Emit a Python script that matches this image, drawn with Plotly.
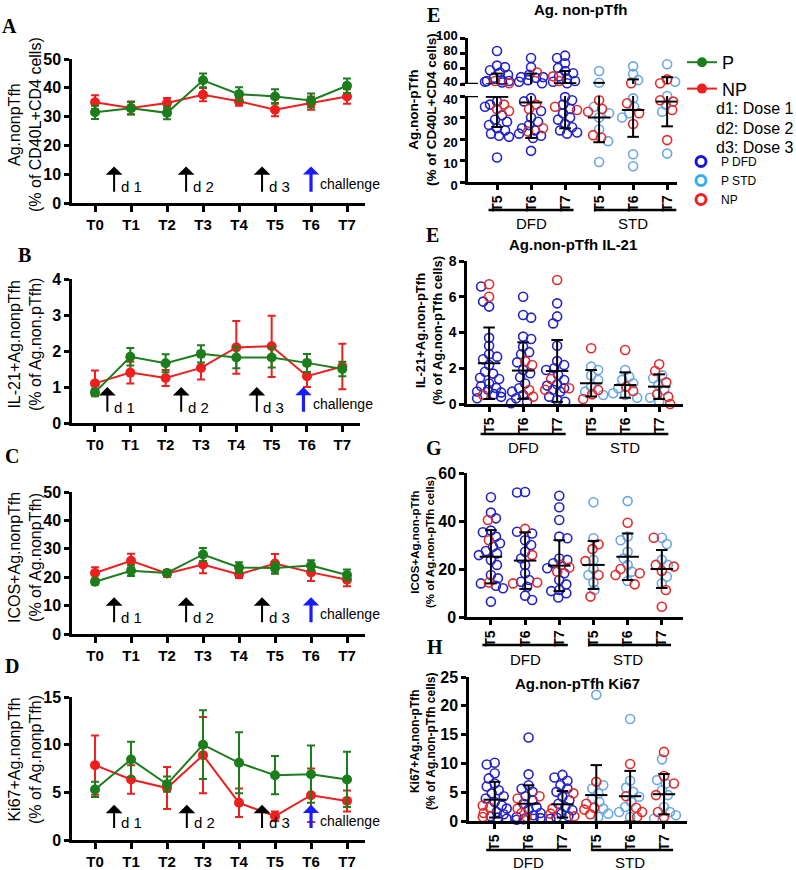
import plotly.graph_objects as go

# ---------------- data ----------------
TIMES = ['T0', 'T1', 'T2', 'T3', 'T4', 'T5', 'T6', 'T7']

A_P = [31.5, 32.9, 31.3, 42.6, 37.8, 37.0, 35.6, 40.7]
A_P_ERR = [2.3, 2.2, 2.2, 2.4, 2.4, 2.5, 2.4, 2.5]
A_NP = [35.0, 33.0, 34.7, 37.6, 35.3, 32.4, 34.7, 37.0]
A_NP_ERR = [2.4, 2.2, 1.8, 2.3, 1.5, 2.3, 2.3, 2.5]

B_P = [0.85, 1.84, 1.66, 1.92, 1.82, 1.82, 1.67, 1.5]
B_P_ERR = [0.1, 0.24, 0.25, 0.24, 0.3, 0.28, 0.25, 0.2]
B_NP = [1.1, 1.4, 1.25, 1.53, 2.1, 2.13, 1.3, 1.57]
B_NP_ERR = [0.36, 0.3, 0.22, 0.32, 0.73, 0.85, 0.3, 0.63]

C_P = [18.4, 22.3, 21.5, 28.0, 23.4, 23.2, 24.1, 20.8]
C_P_ERR = [1.0, 1.9, 1.0, 2.3, 1.9, 2.0, 1.9, 1.9]
C_NP = [21.5, 25.8, 21.3, 24.5, 21.0, 24.8, 21.7, 19.1]
C_NP_ERR = [2.0, 2.5, 1.2, 3.1, 1.3, 3.4, 3.0, 2.3]

D_P = [5.3, 8.45, 5.85, 10.0, 8.1, 6.8, 6.9, 6.35]
D_P_ERR = [0.8, 1.85, 0.8, 3.6, 3.2, 2.0, 3.0, 2.9]
D_NP = [7.85, 6.35, 5.45, 8.9, 3.9, 2.5, 4.7, 4.1]
D_NP_ERR = [3.1, 1.5, 2.2, 4.0, 1.5, 0.5, 2.8, 1.1]

DOSE_LABELS = ['d 1', 'd 2', 'd 3', 'challenge']

GROUP_TICKS = ['T5', 'T6', 'T7', 'T5', 'T6', 'T7']
GROUPS = ['DFD', 'STD']

# order of sublists: DFD T5, DFD T6, DFD T7, STD T5, STD T6, STD T7
E_P = [
    [83, 64, 62, 58, 55, 52, 48, 45, 44, 44, 43, 42, 37.5, 36, 35, 31, 29, 28, 26.5, 25, 24, 22.5, 21.5, 21, 11.4],
    [74, 62, 52, 49, 49, 48, 45, 43, 41, 39, 37.5, 33, 30, 28, 26.5, 25, 24, 22.5, 21.5, 20.5, 14.5],
    [77, 74, 67, 61, 57, 54, 50, 47, 44, 43, 41, 39.5, 38, 36, 34, 32, 30, 29, 27, 25.5, 24, 23, 22.5],
    [57, 41.7, 35, 32, 30, 24.4, 19, 9.3],
    [63, 53, 45, 38.9, 35, 32, 30, 12.9, 7.3],
    [65.7, 43, 40, 36.9, 35.8, 32.7, 13.2],
]
E_NP = [
    [44, 41, 36, 34, 33],
    [55, 36, 34, 25, 23.5],
    [50, 44, 35, 33.5],
    [38, 34, 32.7, 21.8, 20.7],
    [41, 36.6, 32, 27],
    [46, 41, 38, 37.4, 33.5, 19.5],
]
E_MEAN = [39.6, 37, 41, 30, 33.5, 37.4]
E_SD = [14, 16.5, 16, 11.5, 12.5, 11.5]

F_P = [
    [6.57, 5.73, 5.45, 3.7, 3.26, 2.78, 2.65, 2.5, 2.18, 1.8, 1.7, 1.47, 1.4, 1.15, 1.0, 0.9, 0.8, 0.7, 0.65, 0.55, 0.4, 0.32],
    [6.0, 4.98, 4.83, 3.77, 3.64, 3.2, 2.9, 2.78, 2.33, 1.9, 1.72, 1.5, 1.15, 0.88, 0.69, 0.5, 0.32, 0.13, 0.04],
    [5.63, 4.9, 4.51, 3.26, 2.4, 2.18, 2.0, 1.9, 1.62, 1.34, 1.1, 1.03, 0.88, 0.8, 0.69, 0.41, 0.22, 0.13],
    [2.09, 1.9, 1.6, 1.34, 0.97, 0.69, 0.5],
    [1.9, 1.53, 1.35, 1.16, 0.88, 0.6, 0.5, 0.35],
    [1.6, 1.44, 1.06, 0.78, 0.35, 0.13],
]
F_NP = [
    [6.7, 6.0, 0.5],
    [2.4, 2.18, 0.78, 0.41],
    [6.94, 1.4, 0.88, 0.8],
    [3.12, 0.78, 0.54, 0.28],
    [3.02, 0.97, 0.73],
    [2.22, 1.85, 1.21, 0.54, 0.41, 0.0],
]
F_MEAN = [2.28, 1.87, 1.85, 1.16, 1.06, 0.97]
F_SD = [2.0, 1.58, 1.73, 0.74, 0.71, 0.69]

G_P = [
    [49.9, 43.5, 41.1, 36, 35.3, 33.5, 30.7, 29.3, 27.5, 26.5, 25.8, 23.8, 21.7, 17.5, 16.1, 14, 13, 12, 6.4],
    [52.1, 51.9, 35.5, 34.8, 32, 30, 27.2, 24.4, 21.7, 18.2, 15.4, 14.7, 12.6, 8.9, 7.1],
    [50.5, 45.7, 40.4, 33.5, 32.8, 24.4, 23.8, 22.4, 20.3, 18.2, 15.4, 13.6, 11.25, 10.8, 9.9, 8.1],
    [47.8, 32.8, 23.8, 20, 17.5, 14.4, 11.25],
    [48.3, 33.5, 32, 27.2, 24.4, 21.7, 18.9, 15],
    [33, 30.4, 23.8, 21.7, 16.8, 14],
]
G_NP = [
    [40.4, 32, 14.4],
    [36.7, 25.8, 14.4, 14],
    [21.7, 20.6, 18.9],
    [30.3, 28.3, 23.3, 17.5, 8.5],
    [39.3, 20, 18.2, 17.5, 13.6],
    [33, 21.7, 21, 19.2, 11.25, 4.3],
]
G_MEAN = [25.1, 23.5, 21.4, 21.7, 25.1, 20]
G_SD = [11.1, 11.8, 10.6, 10, 9.7, 7.9]

H_P = [
    [10.1, 9.8, 8.3, 7.4, 6.5, 6.0, 5.35, 4.8, 4.3, 3.9, 3.3, 2.7, 2.15, 1.57, 1.16, 0.81, 0.58, 0.4],
    [14.5, 8.1, 6.2, 5.6, 5.06, 4.3, 3.6, 3.0, 2.44, 1.98, 1.4, 1.0, 0.7, 0.5, 0.4, 0.3, 0.23],
    [8.0, 7.56, 7.0, 6.2, 5.64, 5.06, 4.2, 3.6, 3.0, 2.44, 1.86, 1.28, 0.81, 0.6, 0.4],
    [21.9, 6.2, 5.64, 4.8, 3.9, 3.3, 2.15, 1.28, 0.7],
    [17.7, 7.0, 5.8, 5.06, 4.2, 3.3, 2.44, 1.57, 0.7],
    [10.7, 7.1, 6.5, 5.35, 4.5, 2.44, 1.57, 1.0, 0.4],
]
H_NP = [
    [2.7, 2.3, 1.4, 0.7],
    [4.3, 3.9, 2.15, 1.4, 0.7],
    [4.8, 2.15, 1.28, 0.81],
    [6.8, 3.0, 2.3, 1.98, 1.16],
    [9.9, 4.3, 2.3, 1.57, 0.7],
    [12.0, 7.8, 6.5, 4.5, 1.57, 0.7],
]
H_MEAN = [3.7, 3.0, 2.9, 4.5, 4.3, 4.65]
H_SD = [3.1, 3.2, 2.3, 5.2, 4.4, 3.5]

# ---------------- styling / layout helpers ----------------
W, H = 796, 870
FONT = 'Arial, Liberation Sans, sans-serif'
SERIF = 'Times New Roman, Liberation Serif, serif'
GREEN = '#1b7d1b'
RED = '#ee1f1f'
DBLUE = '#2323c8'
LBLUE = '#6aa6e6'
NPRED = '#e52a2a'
BLUE_ARROW = '#1a1aff'


def xd(a, b):
    return [a / W, b / W]


def yd(top, bot):
    return [1 - bot / H, 1 - top / H]


def px_x(p):
    return p / W


def px_y(p):
    return 1 - p / H


fig = go.Figure()
annotations = []
shapes = []
layout_axes = {}


def yaxis_style(**kw):
    d = dict(showline=True, linewidth=2.5, linecolor='black', ticks='outside', ticklen=5,
             tickwidth=2.5, tickcolor='black', showgrid=False, zeroline=False, automargin=False,
             tickfont=dict(family=FONT, size=16, color='black', weight='bold'))
    d.update(kw)
    return d


# ---------------- left panels ----------------
LEFT = [
    dict(s='', P=A_P, Pe=A_P_ERR, NP=A_NP, NPe=A_NP_ERR, xdom=(72, 365), ydom=(59, 203),
         xr=[-0.64, 7.5], yr=[0, 50], dt=10,
         title='Ag.nonpTfh<br>(% of CD40L+CD4 cells)', tcy=125,
         arrows=[0.53, 2.53, 4.64, 6.0], tip=12.7, base=3.4, laby=5.6, chaly=6.6,
         letter='A', lx=9, ly=26),
    dict(s='2', P=B_P, Pe=B_P_ERR, NP=B_NP, NPe=B_NP_ERR, xdom=(72, 360), ydom=(279, 423),
         xr=[-0.65, 7.5], yr=[0, 4], dt=1,
         title='IL-21+Ag.nonpTfh<br>(% of Ag.non.pTfh)', tcy=345,
         arrows=[0.35, 2.44, 4.58, 5.9], tip=1.0, base=0.27, laby=0.42, chaly=0.53,
         letter='B', lx=25, ly=255),
    dict(s='3', P=C_P, Pe=C_P_ERR, NP=C_NP, NPe=C_NP_ERR, xdom=(72, 365), ydom=(492, 634),
         xr=[-0.64, 7.5], yr=[0, 50], dt=10,
         title='ICOS+Ag.nonpTfh<br>(% of Ag.nonpTfh)', tcy=558,
         arrows=[0.53, 2.53, 4.64, 6.0], tip=12.9, base=3.6, laby=5.7, chaly=6.9,
         letter='C', lx=12, ly=456),
    dict(s='4', P=D_P, Pe=D_P_ERR, NP=D_NP, NPe=D_NP_ERR, xdom=(72, 365), ydom=(697, 840),
         xr=[-0.64, 7.5], yr=[0, 15], dt=5,
         title='Ki67+Ag.nonpTfh<br>(% of Ag.nonpTfh)', tcy=760,
         arrows=[0.53, 2.55, 4.64, 6.0], tip=3.7, base=1.1, laby=1.8, chaly=2.0,
         letter='D', lx=12, ly=666),
]

XIDX = list(range(len(TIMES)))
for k, p in enumerate(LEFT):
    s = p['s']
    xa, ya = 'x' + s, 'y' + s
    fig.add_trace(go.Scatter(
        x=XIDX, y=p['NP'], mode='lines+markers', name='NP',
        line=dict(color=RED, width=2), marker=dict(color=RED, size=10),
        error_y=dict(type='data', array=p['NPe'], color=RED, thickness=2, width=4),
        xaxis=xa, yaxis=ya, legend='legend', showlegend=(k == 0), legendrank=2))
    fig.add_trace(go.Scatter(
        x=XIDX, y=p['P'], mode='lines+markers', name='P',
        line=dict(color=GREEN, width=2), marker=dict(color=GREEN, size=10),
        error_y=dict(type='data', array=p['Pe'], color=GREEN, thickness=2, width=4),
        xaxis=xa, yaxis=ya, legend='legend', showlegend=(k == 0), legendrank=1))
    layout_axes['xaxis' + s] = dict(
        domain=xd(*p['xdom']), range=p['xr'], anchor=ya, tickvals=XIDX, ticktext=TIMES,
        showline=True, linewidth=2.5, linecolor='black', ticks='outside', ticklen=6,
        tickwidth=2.5, tickcolor='black', showgrid=False, zeroline=False, automargin=False,
        tickfont=dict(family=FONT, size=15, color='black', weight='bold'))
    layout_axes['yaxis' + s] = yaxis_style(domain=yd(*p['ydom']), range=p['yr'],
                                           dtick=p['dt'], anchor=xa)
    # axis title
    annotations.append(dict(text=p['title'], xref='paper', yref='paper',
                            x=px_x(25), y=px_y(p['tcy']), textangle=-90, showarrow=False,
                            font=dict(family=FONT, size=16, color='black'),
                            xanchor='center', yanchor='middle'))
    # panel letter
    annotations.append(dict(text='<b>%s</b>' % p['letter'], xref='paper', yref='paper',
                            x=px_x(p['lx']), y=px_y(p['ly']), showarrow=False,
                            font=dict(family=SERIF, size=20, color='black'),
                            xanchor='center', yanchor='middle'))
    # dose arrows
    for j, ax_x in enumerate(p['arrows']):
        chal = (j == 3)
        annotations.append(dict(
            x=ax_x, y=p['tip'], ax=ax_x, ay=p['base'], xref=xa, yref=ya, axref=xa, ayref=ya,
            showarrow=True, text='', arrowhead=1, arrowsize=(0.85 if chal else 1.4),
            arrowwidth=(3.2 if chal else 2.0), arrowcolor=(BLUE_ARROW if chal else 'black'),
            standoff=0, startstandoff=0))
        annotations.append(dict(
            x=ax_x + (0.2 if chal else 0.13), y=(p['chaly'] if chal else p['laby']),
            xref=xa, yref=ya, text=DOSE_LABELS[j], showarrow=False, xanchor='left',
            yanchor='middle',
            font=dict(family=FONT, size=(14 if chal else 15), color='black')))


# ---------------- right panels ----------------
def swarm(vals, ypx, pxx, d=7.6, wmax=12.0):
    order = sorted(range(len(vals)), key=lambda i: -vals[i])
    placed = []
    off = [0.0] * len(vals)
    base = [0.0]
    k = 1
    while k <= wmax:
        base += [float(k), float(-k)]
        k += 1
    for n, i in enumerate(order):
        cands = base if n % 2 == 0 else [-c for c in base]
        y = ypx(vals[i])
        best, bestc, bestcost = None, 0.0, None
        for c in cands:
            cost = 0.0
            for yp, xp in placed:
                dist = ((c - xp) ** 2 + (y - yp) ** 2) ** 0.5
                if dist < d:
                    cost += d - dist
            if cost == 0:
                best = c
                break
            if bestcost is None or cost < bestcost:
                bestcost, bestc = cost, c
        if best is None:
            best = bestc
        placed.append((y, best))
        off[i] = best / pxx
    return off


def stat_xy(means, sds):
    xs, ys = [], []
    for i, (m, s) in enumerate(zip(means, sds)):
        xs += [i - 0.33, i + 0.33, None, i, i, None, i - 0.17, i + 0.17, None,
               i - 0.17, i + 0.17, None]
        ys += [m, m, None, m - s, m + s, None, m + s, m + s, None, m - s, m - s, None]
    return xs, ys


RIGHT = [
    dict(key='E', P=E_P, NP=E_NP, M=E_MEAN, SD=E_SD, xs='5', upper='6', xdom=(468, 677),
         ydom=(96, 182), udom=(38, 84), xr=[-0.853, 5.29], yr=[0, 40], dt=10,
         ur=[40, 100], udt=20,
         ypx=lambda v: v * 2.15 if v <= 40 else 98 + (v - 40) * 0.767,
         title='<b>Ag.non-pTfh<br>(% of CD40L+CD4 cells)</b>', tsize=13.5, tcx=423, tcy=110,
         ptitle='Ag. non-pTfh', ptx=580, pty=9, letter='E', lx=433, ly=15,
         gline=210, glab=223, tfs=13),
    dict(key='F', P=F_P, NP=F_NP, M=F_MEAN, SD=F_SD, xs='7', upper=None, xdom=(467, 683),
         ydom=(261, 404), xr=[-0.65, 5.7], yr=[0, 8], dt=2,
         ypx=lambda v: v * 17.9,
         title='<b>IL-21+Ag.non-pTfh<br>(% of Ag.non-pTfh cells)</b>', tsize=13, tcx=429,
         tcy=331, ptitle='Ag.non-pTfh IL-21', ptx=573, pty=245, letter='E', lx=432, ly=235,
         gline=434, glab=447, tfs=14),
    dict(key='G', P=G_P, NP=G_NP, M=G_MEAN, SD=G_SD, xs='8', upper=None, xdom=(467, 683),
         ydom=(473, 617), xr=[-0.7, 5.62], yr=[0, 60], dt=20,
         ypx=lambda v: v * 2.4,
         title='<b>ICOS+Ag.non-pTfh<br>(% of Ag.non-pTfh cells)</b>', tsize=11.5, tcx=422,
         tcy=542, ptitle=None, letter='G', lx=434, ly=448,
         gline=645, glab=659, tfs=16),
    dict(key='H', P=H_P, NP=H_NP, M=H_MEAN, SD=H_SD, xs='9', upper=None, xdom=(469, 687),
         ydom=(677, 821), xr=[-0.76, 5.68], yr=[0, 25], dt=5,
         ypx=lambda v: v * 5.76,
         title='<b>Ki67+Ag.non-pTfh<br>(% of Ag.non-pTfh cells)</b>', tsize=12, tcx=423,
         tcy=741, ptitle='Ag.non-pTfh Ki67', ptx=577, pty=683, letter='H', lx=435, ly=647,
         gline=850, glab=862, tfs=16),
]

PXX = 34.0
for p in RIGHT:
    s = p['xs']
    xa, ya = 'x' + s, 'y' + s
    groups = {'PD': ([], []), 'PS': ([], []), 'NP': ([], [])}
    groups_u = {'PD': ([], []), 'PS': ([], []), 'NP': ([], [])}
    for i in range(6):
        vals = list(p['P'][i]) + list(p['NP'][i])
        kinds = [('PD' if i < 3 else 'PS')] * len(p['P'][i]) + ['NP'] * len(p['NP'][i])
        offs = swarm(vals, p['ypx'], PXX)
        for v, kd, o in zip(vals, kinds, offs):
            tgt = groups_u if (p['upper'] and v > 40) else groups
            tgt[kd][0].append(i + o)
            tgt[kd][1].append(v)
    colors = {'PD': DBLUE, 'PS': LBLUE, 'NP': NPRED}
    for kd in ['PD', 'PS', 'NP']:
        fig.add_trace(go.Scatter(
            x=groups[kd][0], y=groups[kd][1], mode='markers', cliponaxis=False,
            marker=dict(symbol='circle-open', size=9, color=colors[kd],
                        line=dict(width=1.6, color=colors[kd])),
            xaxis=xa, yaxis=ya, showlegend=False, hoverinfo='skip'))
    sx, sy = stat_xy(p['M'], p['SD'])
    fig.add_trace(go.Scatter(x=sx, y=sy, mode='lines', line=dict(color='black', width=2),
                             xaxis=xa, yaxis=ya, showlegend=False, hoverinfo='skip'))
    layout_axes['xaxis' + s] = dict(
        domain=xd(*p['xdom']), range=p['xr'], anchor=ya, tickvals=list(range(6)),
        ticktext=GROUP_TICKS, tickangle=-90,
        showline=True, linewidth=2.5, linecolor='black', ticks='outside', ticklen=5,
        tickwidth=2.5, tickcolor='black', showgrid=False, zeroline=False, automargin=False,
        tickfont=dict(family=FONT, size=14, color='black', weight='bold'))
    layout_axes['yaxis' + s] = yaxis_style(
        domain=yd(*p['ydom']), range=p['yr'], dtick=p['dt'], anchor=xa,
        ticklabelshift=(3 if p['upper'] else 0),
        tickfont=dict(family=FONT, size=p['tfs'], color='black', weight='bold'))
    if p['upper']:
        u = p['upper']
        xu, yu = 'x' + u, 'y' + u
        for kd in ['PD', 'PS', 'NP']:
            fig.add_trace(go.Scatter(
                x=groups_u[kd][0], y=groups_u[kd][1], mode='markers', cliponaxis=False,
                marker=dict(symbol='circle-open', size=9, color=colors[kd],
                            line=dict(width=1.6, color=colors[kd])),
                xaxis=xu, yaxis=yu, showlegend=False, hoverinfo='skip'))
        fig.add_trace(go.Scatter(x=sx, y=sy, mode='lines', line=dict(color='black', width=2),
                                 xaxis=xu, yaxis=yu, showlegend=False, hoverinfo='skip'))
        layout_axes['xaxis' + u] = dict(domain=xd(*p['xdom']), range=p['xr'], anchor=yu,
                                        visible=False, automargin=False)
        layout_axes['yaxis' + u] = yaxis_style(
            domain=yd(*p['udom']), range=p['ur'], dtick=p['udt'], anchor=xu,
            ticklabelshift=-3,
            tickfont=dict(family=FONT, size=p['tfs'], color='black', weight='bold'))
        # axis break marks
        for yy, yref in [(40, yu), (40, ya)]:
            shapes.append(dict(type='line', xref='paper', yref=yref, x0=px_x(461),
                               x1=px_x(478), y0=yy, y1=yy, line=dict(color='black', width=2.5)))
    # group underline + labels
    for g, (x0, x1) in enumerate([(-0.25, 2.25), (2.85, 5.27)]):
        shapes.append(dict(type='line', xref=xa, yref='paper', x0=x0, x1=x1,
                           y0=px_y(p['gline']), y1=px_y(p['gline']),
                           line=dict(color='black', width=2.5)))
        annotations.append(dict(text=GROUPS[g], xref=xa, yref='paper', x=1 + 3 * g,
                                y=px_y(p['glab']), showarrow=False, xanchor='center',
                                yanchor='middle',
                                font=dict(family=FONT, size=15, color='black')))
    annotations.append(dict(text=p['title'], xref='paper', yref='paper', x=px_x(p['tcx']),
                            y=px_y(p['tcy']), textangle=-90, showarrow=False,
                            font=dict(family=FONT, size=p['tsize'], color='black'),
                            xanchor='center', yanchor='middle'))
    if p['ptitle']:
        annotations.append(dict(text='<b>%s</b>' % p['ptitle'], xref='paper', yref='paper',
                                x=px_x(p['ptx']), y=px_y(p['pty']), showarrow=False,
                                font=dict(family=FONT, size=15, color='black'),
                                xanchor='center', yanchor='middle'))
    annotations.append(dict(text='<b>%s</b>' % p['letter'], xref='paper', yref='paper',
                            x=px_x(p['lx']), y=px_y(p['ly']), showarrow=False,
                            font=dict(family=SERIF, size=20, color='black'),
                            xanchor='center', yanchor='middle'))

# legend-only entries for the dot plots
for name, col in [('P DFD', '#1515e0'), ('P STD', '#33b0f2'), ('NP', '#ee2020')]:
    fig.add_trace(go.Scatter(x=[None], y=[None], mode='markers', name=name,
                             marker=dict(symbol='circle-open', size=10, color=col,
                                         line=dict(width=3, color=col)),
                             xaxis='x5', yaxis='y5', legend='legend2'))

# dose text lines
for t, yy in [('d1: Dose 1', 108), ('d2: Dose 2', 128), ('d3: Dose 3', 148)]:
    annotations.append(dict(text=t, xref='paper', yref='paper', x=px_x(795), y=px_y(yy),
                            showarrow=False, xanchor='right', yanchor='middle',
                            font=dict(family=FONT, size=16, color='black')))

fig.update_layout(
    width=W, height=H, margin=dict(l=0, r=0, t=0, b=0, autoexpand=False),
    plot_bgcolor='white', paper_bgcolor='white',
    font=dict(family=FONT, color='black'),
    legend=dict(x=px_x(682), y=px_y(44), xanchor='left', yanchor='top',
                font=dict(family=FONT, size=18, color='black'), bgcolor='rgba(0,0,0,0)',
                itemwidth=30, traceorder='normal'),
    legend2=dict(x=px_x(681), y=px_y(147), xanchor='left', yanchor='top',
                 font=dict(family=FONT, size=12, color='black'), bgcolor='rgba(0,0,0,0)',
                 itemwidth=30),
    annotations=annotations, shapes=shapes,
    **layout_axes)

fig.write_html('out.html', config={'displayModeBar': False},
               post_script="document.body.style.margin='0px';")
